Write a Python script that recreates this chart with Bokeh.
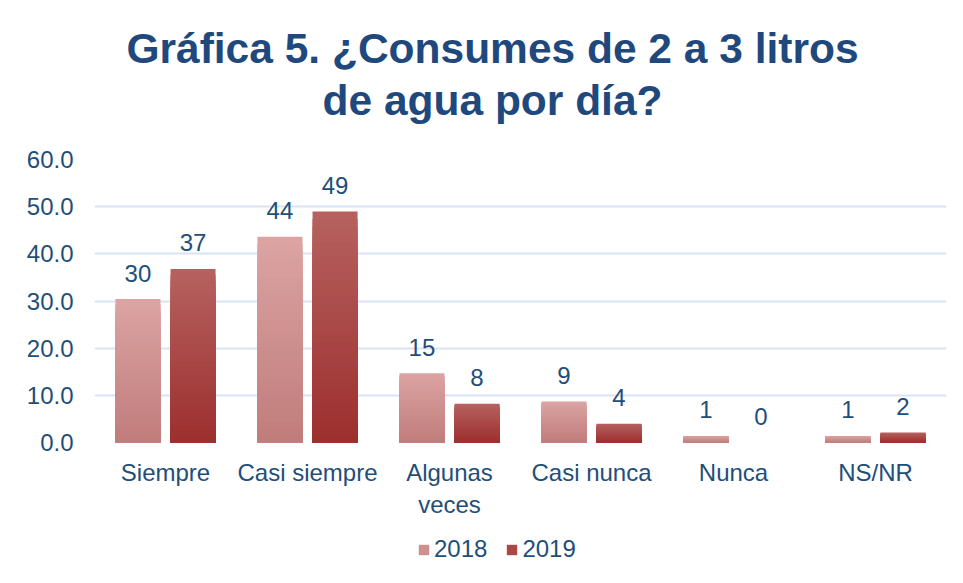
import numpy as np
from bokeh.plotting import figure
from bokeh.layouts import column
from bokeh.models import (ColumnDataSource, FactorRange, Range1d, FixedTicker,
                          PrintfTickFormatter, Legend, LegendItem, Title)
from bokeh.transform import dodge
from bokeh.core.properties import value
from bokeh.embed import file_html
from bokeh.resources import INLINE

# ---- data ----
categories = ["Siempre", "Casi siempre", "Algunas\nveces", "Casi nunca", "Nunca", "NS/NR"]
series_names = ["2018", "2019"]
values_2018 = [30.4, 43.6, 14.7, 8.7, 1.4, 1.4]
values_2019 = [36.8, 49.0, 8.2, 4.0, 0.0, 2.1]
y_ticks = [0, 10, 20, 30, 40, 50, 60]
title_line1 = "Gráfica 5. ¿Consumes de 2 a 3 litros"
title_line2 = "de agua por día?"

# ---- style ----
TEXT = "#1F4E79"
TITLE_C = "#1F497D"
GRID = "#D9E3F3"
FONT = "Liberation Sans"
FS = "24px"
grad = {
    "2018": ("#C07C7B", "#DBA4A3"),   # bottom, top
    "2019": ("#9C2F2E", "#B66260"),
}
offsets = {"2018": -0.194, "2019": 0.194}
BAR_W = 0.317
NSEG = 30

def hex2rgb(h):
    h = h.lstrip("#")
    return np.array([int(h[i:i + 2], 16) for i in (0, 2, 4)], dtype=float)

def rgb2hex(c):
    return "#%02x%02x%02x" % tuple(int(round(v)) for v in c)

def blank(fig):
    fig.outline_line_color = None
    fig.background_fill_color = "white"
    fig.border_fill_color = "white"
    fig.xgrid.grid_line_color = None
    fig.ygrid.grid_line_color = None

# ---- header with the two-line title ----
head = figure(width=963, height=136, output_backend="svg", toolbar_location=None,
              x_range=Range1d(0, 1), y_range=Range1d(0, 1),
              x_axis_location=None, y_axis_location=None, frame_align=False,
              min_border_left=21, min_border_right=0, min_border_top=133, min_border_bottom=0)
blank(head)
t2 = Title(text=title_line2, align="center", text_font=FONT, text_font_size="42.5px",
           text_font_style="bold", text_color=TITLE_C, standoff=19)
t1 = Title(text=title_line1, align="center", text_font=FONT, text_font_size="42.5px",
           text_font_style="bold", text_color=TITLE_C, standoff=-13)
head.add_layout(t2, "above")
head.add_layout(t1, "above")

# ---- main chart ----
p = figure(x_range=FactorRange(*categories, range_padding=0), y_range=Range1d(0, 60),
           width=963, height=384, output_backend="svg", toolbar_location=None,
           frame_align=False,
           min_border_left=94, min_border_right=17, min_border_top=23, min_border_bottom=77)
blank(p)

legend_cols = {}
data_by_series = {"2018": values_2018, "2019": values_2019}
for name in series_names:
    vals = np.array(data_by_series[name], dtype=float)
    c0, c1 = hex2rgb(grad[name][0]), hex2rgb(grad[name][1])
    legend_cols[name] = rgb2hex((c0 + c1) / 2)
    # vertical gradient: tallest slice (top colour) first, shorter slices over it
    for k in range(NSEG, 0, -1):
        frac = k / NSEG
        col = rgb2hex(c0 + (c1 - c0) * (k - 0.5) / NSEG)
        src = ColumnDataSource(dict(cat=categories, top=vals * frac))
        p.vbar(x=dodge("cat", offsets[name], range=p.x_range), top="top", bottom=0,
               width=BAR_W, source=src, fill_color=col, line_color=None)
    lsrc = ColumnDataSource(dict(cat=categories, y=vals, lab=[f"{v:.0f}" for v in vals]))
    p.text(x=dodge("cat", offsets[name], range=p.x_range), y="y", text="lab", source=lsrc,
           text_align="center", text_baseline="alphabetic", y_offset=-26,
           text_font=value(FONT), text_font_size=FS, text_color=TEXT)

p.yaxis.ticker = FixedTicker(ticks=y_ticks)
p.yaxis.formatter = PrintfTickFormatter(format="%.1f")
for ax in (p.xaxis, p.yaxis):
    ax.axis_line_color = None
    ax.major_tick_line_color = None
    ax.minor_tick_line_color = None
    ax.major_label_text_font = FONT
    ax.major_label_text_font_size = FS
    ax.major_label_text_color = TEXT
p.yaxis.major_label_standoff = 15
p.xaxis.major_label_standoff = 10
p.ygrid.grid_line_color = GRID
p.ygrid.grid_line_width = 2

# ---- legend strip ----
lf = figure(width=963, height=63, output_backend="svg", toolbar_location=None,
            x_range=Range1d(0, 1), y_range=Range1d(0, 1),
            x_axis_location=None, y_axis_location=None, frame_align=False,
            min_border_left=0, min_border_right=0, min_border_top=0, min_border_bottom=0)
blank(lf)
items = []
for name in series_names:
    # swatch-only renderer kept outside the visible range
    r = lf.vbar(x=[5], top=[5], bottom=[4], width=0.1, fill_color=legend_cols[name],
                line_color=None)
    items.append(LegendItem(label=name, renderers=[r]))
leg = Legend(items=items, orientation="horizontal", location=(417, 20),
             label_text_font=FONT, label_text_font_size=FS, label_text_color=TEXT,
             glyph_width=13, glyph_height=13, label_standoff=4, spacing=18,
             border_line_color=None, background_fill_alpha=0, padding=0, margin=0)
lf.add_layout(leg)

layout = column(head, p, lf, spacing=0)
open("out.html", "w").write(file_html(layout, INLINE))
